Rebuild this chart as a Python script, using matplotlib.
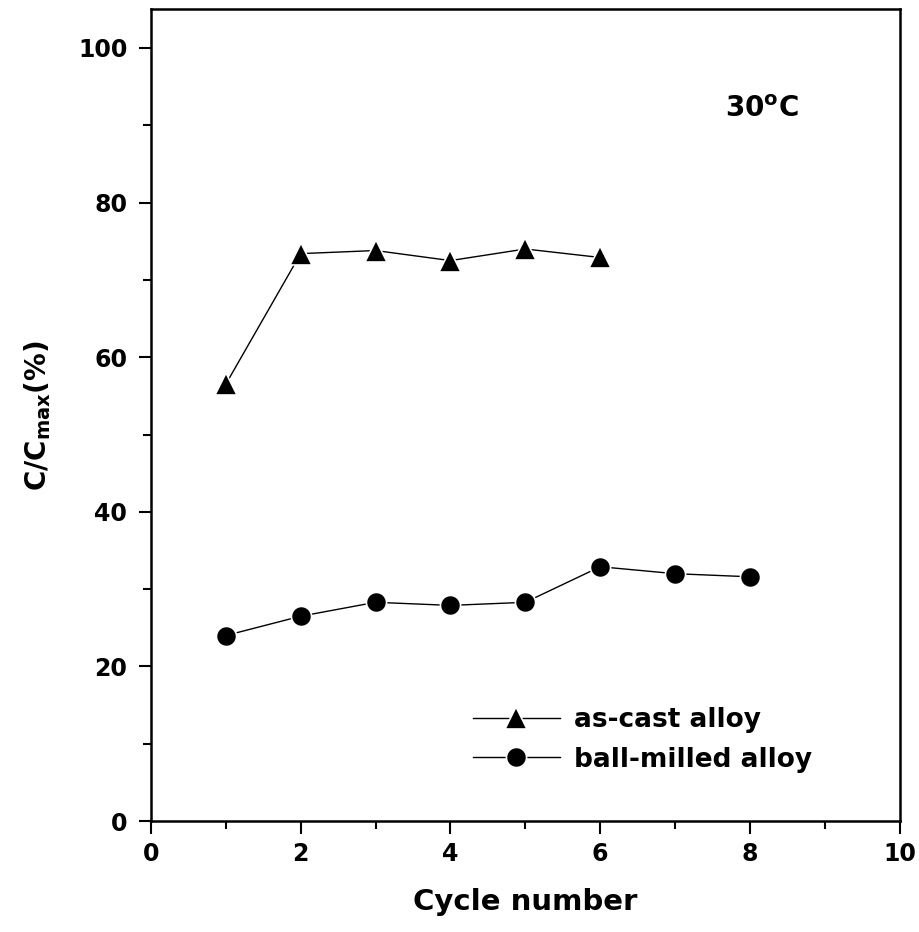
import matplotlib
matplotlib.use("Agg")
import matplotlib.pyplot as plt
from matplotlib.ticker import MultipleLocator

# data
cycles_cast = [1, 2, 3, 4, 5, 6]
ratio_cast = [56.5, 73.4, 73.8, 72.5, 74.0, 72.9]
cycles_milled = [1, 2, 3, 4, 5, 6, 7, 8]
ratio_milled = [24.0, 26.5, 28.3, 27.9, 28.3, 32.9, 32.0, 31.6]
x_ticks = [0, 2, 4, 6, 8, 10]
y_ticks = [0, 20, 40, 60, 80, 100]

plt.rcParams["font.family"] = ["DejaVu Sans"]
plt.rcParams["font.weight"] = "bold"
plt.rcParams["mathtext.fontset"] = "dejavusans"

fig = plt.figure(figsize=(9.2, 9.32), dpi=100)
ax = fig.add_axes([0.164, 0.119, 0.814, 0.871])

ax.plot(cycles_cast, ratio_cast, color="black", lw=1.0, marker="^", ms=16.5,
        mec="white", mew=1.2, label="as-cast alloy")
ax.plot(cycles_milled, ratio_milled, color="black", lw=1.0, marker="o", ms=14.5,
        mec="white", mew=1.2, label="ball-milled alloy")

ax.set_xlim(0, 10)
ax.set_ylim(0, 105)
ax.set_xticks(x_ticks)
ax.set_yticks(y_ticks)
ax.xaxis.set_minor_locator(MultipleLocator(1))
ax.yaxis.set_minor_locator(MultipleLocator(10))
ax.tick_params(which="both", direction="out", top=False, right=False, width=1.5)
ax.tick_params(which="major", length=9, labelsize=17)
ax.tick_params(axis="y", which="major", pad=8)
ax.tick_params(axis="x", which="major", pad=6)
ax.tick_params(which="minor", length=5.5)
for s in ax.spines.values():
    s.set_linewidth(1.8)

ax.set_xlabel("Cycle number", fontsize=21, fontweight="bold", labelpad=16)
ax.set_ylabel(r"C/C$_{\mathbf{max}}$(%)", fontsize=20, fontweight="bold", labelpad=18)

ax.text(0.766, 0.877, r"30$^{\mathrm{o}}$C", transform=ax.transAxes, fontsize=20,
        fontweight="bold", ha="left", va="center")

ax.legend(loc="upper left", bbox_to_anchor=(0.43, 0.14), frameon=False,
          prop={"weight": "bold", "size": 19}, handlelength=3.3,
          handletextpad=0.55, labelspacing=0.5, borderpad=0, borderaxespad=0)

fig.savefig("out.png", dpi=100)
